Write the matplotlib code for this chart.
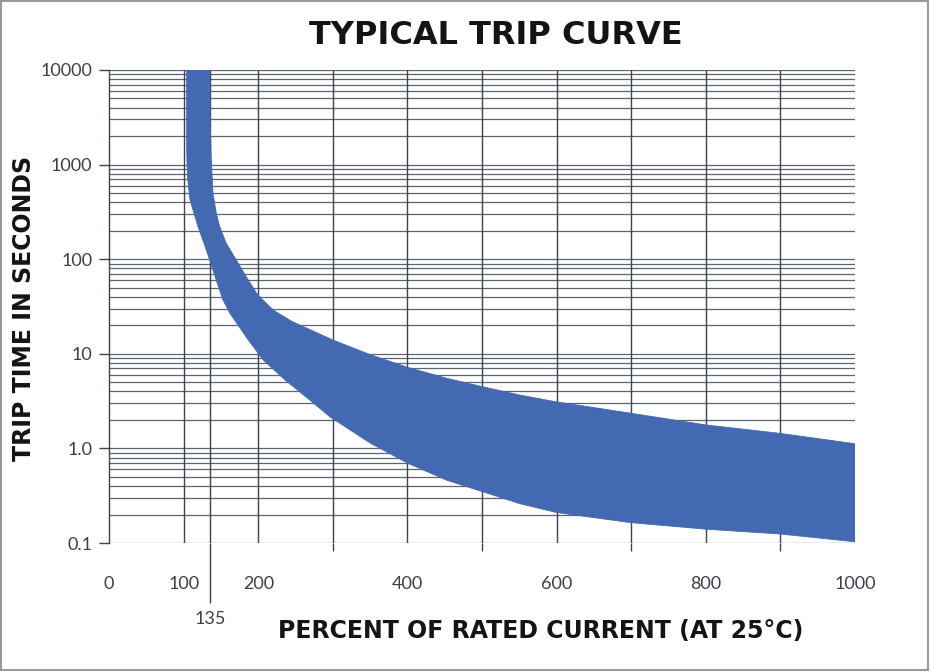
import matplotlib
matplotlib.use("Agg")
import matplotlib.pyplot as plt
from matplotlib.patches import Rectangle
import numpy as np

# ---- data ----
upper_pct = [135, 135.5, 137, 139.3, 143.7, 148.3, 157.1, 170.5, 184, 197.9, 206.3, 220.1, 245,
             300, 350, 400, 453, 500, 551, 600, 700, 800, 900, 1000]
upper_t = [10000, 3000, 1119, 498, 306, 221, 147, 98, 65, 43.6, 37, 29, 22,
           14, 9.8, 7.2, 5.5, 4.5, 3.66, 3.1, 2.35, 1.77, 1.44, 1.12]

lower_pct = [104, 104, 104.5, 105.5, 108.5, 113.8, 119.2, 127.2, 134.9, 143.7, 152.7, 162, 186.6, 206.7,
             235.8, 269, 296, 350, 400, 453, 500, 551, 600, 700, 800, 900, 1000]
lower_t = [10000, 1500, 1000, 690, 423, 306, 221, 147, 98, 60, 37, 26.8, 14, 8.6,
           5.3, 3.25, 2.16, 1.14, 0.70, 0.46, 0.35, 0.26, 0.21, 0.164, 0.140, 0.1245, 0.103]

x_labeled = [0, 100, 200, 400, 600, 800, 1000]
x_grid = [100, 200, 300, 400, 500, 600, 700, 800, 900]
x_tick_marks = [0, 100, 200, 300, 400, 500, 600, 700, 800, 900]
marked_current = 135
y_ticks = [0.1, 1, 10, 100, 1000, 10000]
y_labels = ["0.1", "1.0", "10", "100", "1000", "10000"]

title = "TYPICAL TRIP CURVE"
xlabel = "PERCENT OF RATED CURRENT (AT 25°C)"
ylabel = "TRIP TIME IN SECONDS"

band_color = "#4369B2"
hgrid_color = "#5c666f"
vgrid_color = "#3c454d"
tick_text_color = "#3a4048"
tick_font = ["Lato", "DejaVu Sans"]

fig = plt.figure(figsize=(9.32, 6.72), dpi=100)
ax = fig.add_axes([109.1 / 932, 1 - 543 / 672, (855 - 109.1) / 932, (543 - 70) / 672])

ax.set_yscale("log")
ax.set_xlim(0, 1000)
ax.set_ylim(0.1, 10000)

# band polygon from the two boundaries
poly_x = list(upper_pct) + list(lower_pct[::-1])
poly_y = list(upper_t) + list(lower_t[::-1])
ax.fill(poly_x, poly_y, color=band_color, lw=0.6, ec=band_color, joinstyle="round", zorder=3)

# grid
ax.set_yticks(y_ticks)
ax.set_yticklabels(y_labels)
ax.yaxis.set_minor_locator(matplotlib.ticker.LogLocator(base=10, subs=np.arange(2, 10)))
ax.yaxis.set_minor_formatter(matplotlib.ticker.NullFormatter())
ax.grid(True, axis="y", which="both", color=hgrid_color, lw=0.9, zorder=1)
for xv in x_grid:
    ax.axvline(xv, color=vgrid_color, lw=1.0, zorder=2)
ax.axvline(marked_current, color=vgrid_color, lw=1.0, zorder=2)

# x ticks: labels on major (no mark), marks on minor
ax.set_xticks(x_labeled)
ax.set_xticklabels([str(v) for v in x_labeled])
ax.set_xticks(x_tick_marks, minor=True)
ax.tick_params(axis="x", which="major", length=0, pad=24, labelsize=13,
               labelcolor=tick_text_color)
ax.tick_params(axis="x", which="minor", length=6, width=1.0, color=vgrid_color, direction="out")
ax.tick_params(axis="y", which="major", length=7, width=1.0, color=vgrid_color,
               pad=5, labelsize=13, labelcolor=tick_text_color)
ax.tick_params(axis="y", which="minor", length=0)

for lab in ax.get_xticklabels() + ax.get_yticklabels():
    lab.set_family(tick_font)

# secondary axis for the 135 mark
sec = ax.secondary_xaxis("bottom")
sec.set_xticks([marked_current])
sec.set_xticklabels([str(marked_current)])
sec.tick_params(axis="x", length=43, width=1.0, color=vgrid_color, pad=6,
                labelsize=13, labelcolor=tick_text_color)
for s in sec.spines.values():
    s.set_visible(False)
for lab in sec.get_xticklabels():
    lab.set_family(tick_font)

# spines
for side in ["top", "right", "bottom"]:
    ax.spines[side].set_visible(False)
ax.spines["left"].set_color(vgrid_color)
ax.spines["left"].set_linewidth(1.0)

# labels
ax.set_xlabel(xlabel, fontsize=17, fontweight="bold", family="DejaVu Sans",
              color="#141414", va="center", ha="center")
ax.xaxis.set_label_coords((541 - 109.1) / (855 - 109.1), (543 - 631) / 473)
ax.set_ylabel(ylabel, fontsize=17, fontweight="bold", family="DejaVu Sans",
              color="#141414", va="center", ha="center")
ax.yaxis.set_label_coords((24 - 109.1) / (855 - 109.1), (543 - 308) / 473)

fig.text(495.5 / 932, 1 - 35 / 672, title, fontsize=23, fontweight="bold",
         family="DejaVu Sans", color="#141414", ha="center", va="center")

# figure frame
fig.patches.append(Rectangle((0.001, 0.003), 0.995, 0.995, transform=fig.transFigure,
                             fill=False, edgecolor="#9a9a9a", lw=1.5))

fig.savefig("out.png", dpi=100)
